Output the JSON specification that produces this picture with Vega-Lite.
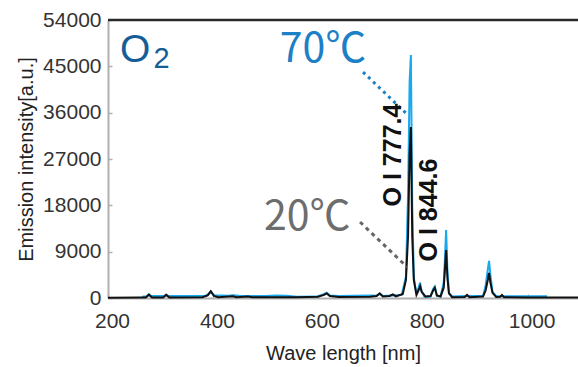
{
  "$schema": "https://vega.github.io/schema/vega-lite/v6.json",
  "width": 470,
  "height": 278,
  "autosize": {"type": "none"},
  "padding": {"left": 108, "top": 20, "right": 0, "bottom": 69},
  "background": "white",
  "config": {
    "view": {"stroke": "#d8d8d8", "strokeWidth": 1},
    "font": "Liberation Sans",
    "axis": {
      "grid": false,
      "domainColor": "#b0b0b0",
      "domainWidth": 2,
      "tickColor": "#b0b0b0",
      "tickSize": -4,
      "tickWidth": 1.5,
      "labelFont": "Liberation Sans",
      "labelFontSize": 21,
      "labelColor": "#333333",
      "labelFlush": false,
      "titleFont": "Liberation Sans",
      "titleFontSize": 20,
      "titleFontWeight": "normal",
      "titleColor": "#222222"
    }
  },
  "datasets": {
    "t70": [
      {"wl": 265, "v": 250}, {"wl": 274, "v": 350}, {"wl": 278, "v": 700}, {"wl": 282, "v": 380},
      {"wl": 307, "v": 380}, {"wl": 311, "v": 650}, {"wl": 315, "v": 380}, {"wl": 385, "v": 400},
      {"wl": 391, "v": 700}, {"wl": 396, "v": 1250}, {"wl": 402, "v": 550}, {"wl": 430, "v": 420},
      {"wl": 438, "v": 520}, {"wl": 450, "v": 420}, {"wl": 500, "v": 380}, {"wl": 520, "v": 500},
      {"wl": 540, "v": 450}, {"wl": 560, "v": 250}, {"wl": 600, "v": 280}, {"wl": 612, "v": 800},
      {"wl": 617, "v": 1050}, {"wl": 623, "v": 500}, {"wl": 640, "v": 380}, {"wl": 700, "v": 480},
      {"wl": 712, "v": 450}, {"wl": 718, "v": 800}, {"wl": 724, "v": 380}, {"wl": 743, "v": 500},
      {"wl": 760, "v": 600}, {"wl": 768, "v": 4200}, {"wl": 772, "v": 20000}, {"wl": 775, "v": 42000},
      {"wl": 777.4, "v": 47200}, {"wl": 780, "v": 18000}, {"wl": 783, "v": 4000}, {"wl": 788, "v": 800},
      {"wl": 792, "v": 2000}, {"wl": 795, "v": 3000}, {"wl": 798, "v": 1200}, {"wl": 805, "v": 200},
      {"wl": 815, "v": 300}, {"wl": 820, "v": 1800}, {"wl": 823, "v": 2200}, {"wl": 827, "v": 400},
      {"wl": 834, "v": 300}, {"wl": 840, "v": 3000}, {"wl": 842, "v": 7000}, {"wl": 844.6, "v": 13200},
      {"wl": 847, "v": 5500}, {"wl": 850, "v": 1000}, {"wl": 856, "v": 300}, {"wl": 884, "v": 400},
      {"wl": 915, "v": 400}, {"wl": 920, "v": 2500}, {"wl": 924, "v": 5500}, {"wl": 926.4, "v": 7200},
      {"wl": 929, "v": 4500}, {"wl": 933, "v": 1200}, {"wl": 940, "v": 350}, {"wl": 1000, "v": 350},
      {"wl": 1037, "v": 350}
    ],
    "t20": [
      {"wl": 200, "v": 60}, {"wl": 260, "v": 80}, {"wl": 272, "v": 100}, {"wl": 278, "v": 650},
      {"wl": 284, "v": 100}, {"wl": 305, "v": 100}, {"wl": 311, "v": 600}, {"wl": 317, "v": 100},
      {"wl": 380, "v": 150}, {"wl": 390, "v": 500}, {"wl": 396, "v": 1300}, {"wl": 402, "v": 400},
      {"wl": 410, "v": 150}, {"wl": 438, "v": 350}, {"wl": 445, "v": 150}, {"wl": 467, "v": 300},
      {"wl": 475, "v": 150}, {"wl": 560, "v": 150}, {"wl": 600, "v": 250}, {"wl": 612, "v": 600},
      {"wl": 617, "v": 900}, {"wl": 623, "v": 400}, {"wl": 640, "v": 200}, {"wl": 700, "v": 250},
      {"wl": 712, "v": 400}, {"wl": 718, "v": 900}, {"wl": 724, "v": 300}, {"wl": 737, "v": 400},
      {"wl": 743, "v": 700}, {"wl": 749, "v": 300}, {"wl": 762, "v": 800}, {"wl": 768, "v": 3500},
      {"wl": 772, "v": 12000}, {"wl": 775, "v": 28000}, {"wl": 777.4, "v": 33200}, {"wl": 780, "v": 12000},
      {"wl": 783, "v": 3500}, {"wl": 788, "v": 600}, {"wl": 792, "v": 1500}, {"wl": 795, "v": 2300},
      {"wl": 798, "v": 1200}, {"wl": 805, "v": 300}, {"wl": 815, "v": 400}, {"wl": 820, "v": 1500},
      {"wl": 823, "v": 2000}, {"wl": 827, "v": 500}, {"wl": 834, "v": 300}, {"wl": 840, "v": 2000},
      {"wl": 842, "v": 5000}, {"wl": 844.6, "v": 9320}, {"wl": 847, "v": 4000}, {"wl": 850, "v": 900},
      {"wl": 856, "v": 150}, {"wl": 880, "v": 200}, {"wl": 884.5, "v": 600}, {"wl": 889, "v": 150},
      {"wl": 915, "v": 300}, {"wl": 920, "v": 1500}, {"wl": 924, "v": 3500}, {"wl": 926.4, "v": 4860},
      {"wl": 929, "v": 3000}, {"wl": 933, "v": 1000}, {"wl": 940, "v": 200}, {"wl": 948, "v": 250},
      {"wl": 951, "v": 600}, {"wl": 955, "v": 150}, {"wl": 1000, "v": 100}, {"wl": 1096, "v": 100}
    ]
  },
  "layer": [
    {
      "data": {"name": "t70"},
      "mark": {"type": "line", "color": "#1aa8ee", "strokeWidth": 2},
      "encoding": {
        "x": {"field": "wl", "type": "quantitative", "title": "Wave length [nm]",
              "scale": {"domain": [200, 1096], "nice": false, "zero": false},
              "axis": {"values": [200, 400, 600, 800, 1000], "format": "d", "labelPadding": 16, "titlePadding": 12, "labelOffset": 4}},
        "y": {"field": "v", "type": "quantitative", "title": "Emission intensity[a.u.]",
              "scale": {"domain": [0, 54000], "nice": false},
              "axis": {"values": [0, 9000, 18000, 27000, 36000, 45000, 54000], "format": "d", "labelPadding": 11, "titlePadding": 6}}
      }
    },
    {
      "data": {"name": "t20"},
      "mark": {"type": "line", "color": "#111111", "strokeWidth": 2},
      "encoding": {
        "x": {"field": "wl", "type": "quantitative", "title": "Wave length [nm]"},
        "y": {"field": "v", "type": "quantitative", "title": "Emission intensity[a.u.]"}
      }
    },
    {
      "data": {"values": [{"v": 54000}]},
      "mark": {"type": "rule", "color": "#2a2a2a", "strokeWidth": 2.5},
      "encoding": {
        "y": {"field": "v", "type": "quantitative", "title": "Emission intensity[a.u.]"}
      }
    },
    {
      "data": {"values": [{"wl": 686.2, "v": 43890, "wl2": 771.9, "v2": 35540}]},
      "mark": {"type": "rule", "color": "#1d7fc6", "strokeWidth": 3, "strokeDash": [3, 4]},
      "encoding": {
        "x": {"field": "wl", "type": "quantitative", "title": "Wave length [nm]"},
        "y": {"field": "v", "type": "quantitative", "title": "Emission intensity[a.u.]"},
        "x2": {"field": "wl2"},
        "y2": {"field": "v2"}
      }
    },
    {
      "data": {"values": [{"wl": 680.5, "v": 14760, "wl2": 770.1, "v2": 6020}]},
      "mark": {"type": "rule", "color": "#666666", "strokeWidth": 3, "strokeDash": [4, 4]},
      "encoding": {
        "x": {"field": "wl", "type": "quantitative", "title": "Wave length [nm]"},
        "y": {"field": "v", "type": "quantitative", "title": "Emission intensity[a.u.]"},
        "x2": {"field": "wl2"},
        "y2": {"field": "v2"}
      }
    },
    {
      "data": {"values": [{"wl": 252, "v": 45800, "t": "O"}]},
      "mark": {"type": "text", "color": "#155d96", "fontSize": 39, "align": "center", "baseline": "alphabetic", "font": "Liberation Sans"},
      "encoding": {
        "x": {"field": "wl", "type": "quantitative", "title": "Wave length [nm]"},
        "y": {"field": "v", "type": "quantitative", "title": "Emission intensity[a.u.]"},
        "text": {"field": "t"}
      }
    },
    {
      "data": {"values": [{"wl": 302, "v": 44666, "t": "2"}]},
      "mark": {"type": "text", "color": "#155d96", "fontSize": 29, "align": "center", "baseline": "alphabetic", "font": "Liberation Sans"},
      "encoding": {
        "x": {"field": "wl", "type": "quantitative", "title": "Wave length [nm]"},
        "y": {"field": "v", "type": "quantitative", "title": "Emission intensity[a.u.]"},
        "text": {"field": "t"}
      }
    },
    {
      "data": {"values": [{"wl": 610, "v": 45830, "t": "70℃"}]},
      "mark": {"type": "text", "color": "#1d7fc6", "fontSize": 41, "align": "center", "baseline": "alphabetic", "font": "Noto Sans CJK JP"},
      "encoding": {
        "x": {"field": "wl", "type": "quantitative", "title": "Wave length [nm]"},
        "y": {"field": "v", "type": "quantitative", "title": "Emission intensity[a.u.]"},
        "text": {"field": "t"}
      }
    },
    {
      "data": {"values": [{"wl": 580, "v": 13200, "t": "20℃"}]},
      "mark": {"type": "text", "color": "#6d6d6d", "fontSize": 41, "align": "center", "baseline": "alphabetic", "font": "Noto Sans CJK JP"},
      "encoding": {
        "x": {"field": "wl", "type": "quantitative", "title": "Wave length [nm]"},
        "y": {"field": "v", "type": "quantitative", "title": "Emission intensity[a.u.]"},
        "text": {"field": "t"}
      }
    },
    {
      "data": {"values": [{"wl": 743.4, "v": 27770, "t": "O I 777.4"}, {"wl": 812, "v": 17090, "t": "O I  844.6"}]},
      "mark": {"type": "text", "color": "#111111", "fontSize": 25, "fontWeight": "bold", "angle": 270, "align": "center", "baseline": "middle", "font": "Liberation Sans"},
      "encoding": {
        "x": {"field": "wl", "type": "quantitative", "title": "Wave length [nm]"},
        "y": {"field": "v", "type": "quantitative", "title": "Emission intensity[a.u.]"},
        "text": {"field": "t"}
      }
    }
  ]
}
